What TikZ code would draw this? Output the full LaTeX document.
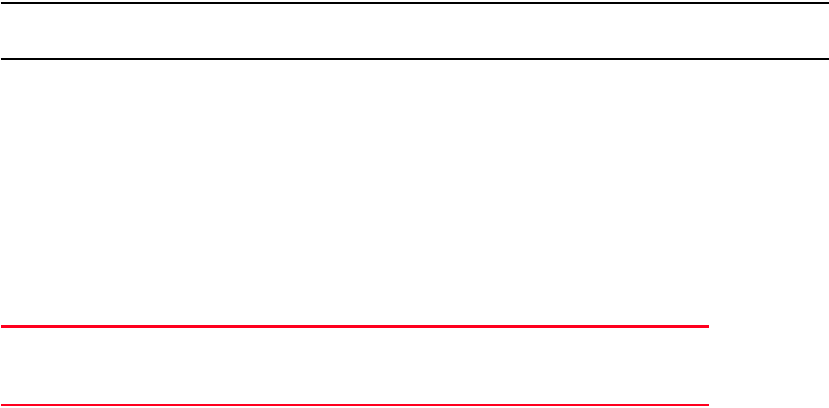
\documentclass[tikz,border=0pt]{standalone}
\definecolor{rulered}{RGB}{255,0,30}
\begin{document}
\begin{tikzpicture}[x=1pt,y=1pt,
  blackrule/.style={draw=black,line width=1.7pt},
  redrule/.style={draw=rulered,line width=2.2pt}]
\useasboundingbox (0,0) rectangle (829,407);
\coordinate (b1l) at (0.5,404.3);
\coordinate (b1r) at (829,404.3);
\coordinate (b2l) at (0.5,348.2);
\coordinate (b2r) at (829,348.2);
\coordinate (r1l) at (0.8,80.5);
\coordinate (r1r) at (709,80.5);
\coordinate (r2l) at (0.8,1.8);
\coordinate (r2r) at (709,1.8);
\draw[blackrule] (b1l) -- (b1r);
\draw[blackrule] (b2l) -- (b2r);
\draw[redrule] (r1l) -- (r1r);
\draw[redrule] (r2l) -- (r2r);
\end{tikzpicture}
\end{document}
